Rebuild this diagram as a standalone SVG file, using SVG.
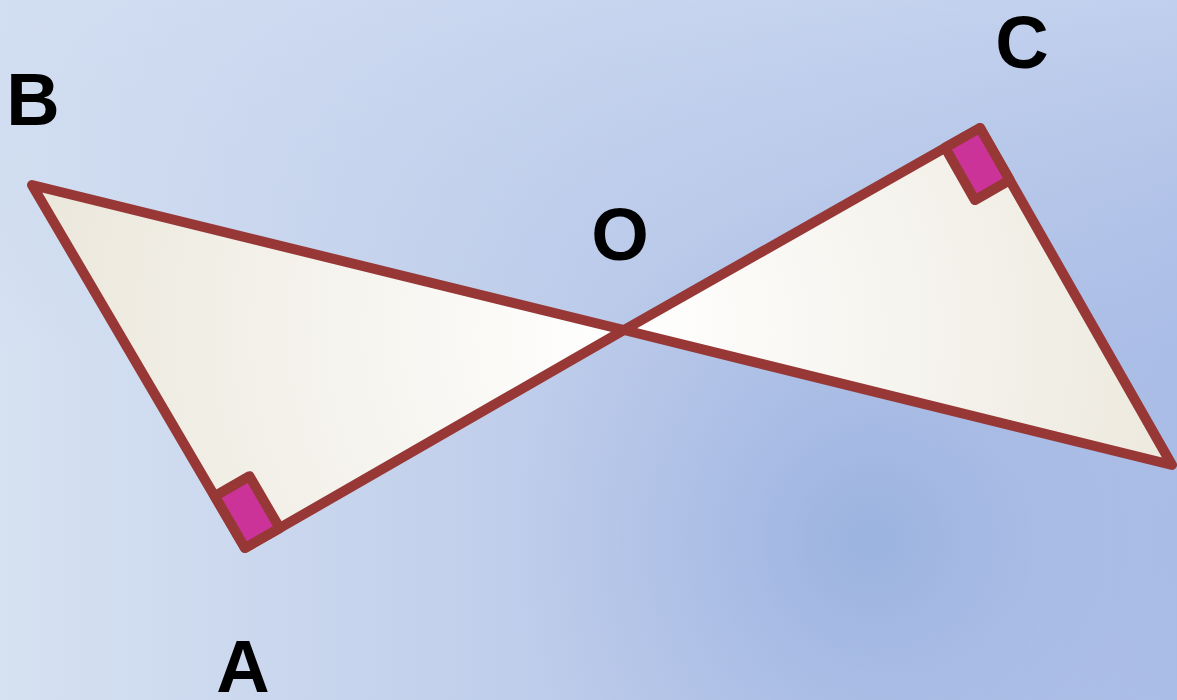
<svg xmlns="http://www.w3.org/2000/svg" width="1177" height="700" viewBox="0 0 1177 700">
<defs>
<linearGradient id="bg" x1="0" y1="0" x2="1" y2="0">
<stop offset="0" stop-color="#d6e1f1"/>
<stop offset="0.5" stop-color="#bccbea"/>
<stop offset="1" stop-color="#aabde6"/>
</linearGradient>
<linearGradient id="bgv" x1="0" y1="0" x2="0" y2="1">
<stop offset="0" stop-color="#d0dcf2" stop-opacity="0.6"/>
<stop offset="0.5" stop-color="#c0cfec" stop-opacity="0"/>
</linearGradient>
<radialGradient id="spot" cx="870" cy="540" r="360" gradientUnits="userSpaceOnUse">
<stop offset="0" stop-color="#9bb3e0"/>
<stop offset="1" stop-color="#a9bbe5" stop-opacity="0"/>
</radialGradient>
<radialGradient id="tri" cx="624" cy="330" r="600" gradientUnits="userSpaceOnUse">
<stop offset="0" stop-color="#ffffff"/>
<stop offset="1" stop-color="#ebe7db"/>
</radialGradient>
<style>
.tri{fill:url(#tri);stroke:#973836;stroke-width:10;stroke-linejoin:round}
.mark{fill:#cc3399;stroke:#973836;stroke-width:10;stroke-linejoin:round}
.lbl{font-family:"Liberation Sans",Arial,sans-serif;font-weight:bold;font-size:74px;fill:#000;text-anchor:middle}
</style>
</defs>
<rect width="1177" height="700" fill="url(#bg)"/>
<rect width="1177" height="700" fill="url(#bgv)"/>
<rect width="1177" height="700" fill="url(#spot)"/>
<g id="triangle-ABO">
<polygon class="tri" points="32,185 245,548 624,330"/>
<polygon class="mark" points="245,548 214.8,496.1 249.5,476.2 279.7,528.1"/>
</g>
<g id="triangle-COD">
<polygon class="tri" points="980,128 1172,465 624,330"/>
<polygon class="mark" points="980,128 945.2,147.7 974.9,200.1 1009.7,180.1"/>
</g>
<g id="labels">
<text class="lbl" x="33" y="125">B</text>
<text class="lbl" x="620" y="260">O</text>
<text class="lbl" x="1022" y="68">C</text>
<text class="lbl" x="243" y="692">A</text>
</g>
</svg>
